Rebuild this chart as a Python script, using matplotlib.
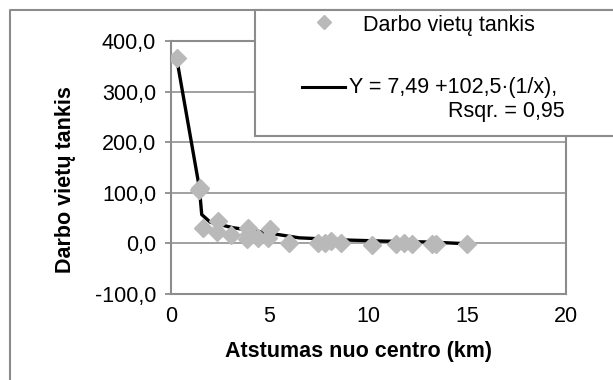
import matplotlib
matplotlib.use('Agg')
import matplotlib.pyplot as plt
from matplotlib.patches import Rectangle
from matplotlib.lines import Line2D

plt.rcParams['font.family'] = ['Liberation Sans', 'DejaVu Sans']

# duomenys (nuskaityta nuo paveikslo)
atstumas = [0.3, 1.45, 1.5, 1.65, 2.4, 2.35, 3.05, 3.9, 3.85, 3.95, 4.4, 5.0, 4.9,
            6.0, 7.45, 7.8, 8.1, 8.6, 10.2, 11.4, 11.8, 12.2, 13.2, 13.4, 15.0]
tankis = [366, 106, 110, 31, 44, 22, 16, 31, 8, 18, 11, 29, 11,
          0, 0, 1, 5, 1, -4, -2, 1, -2, -2, -2, -2]

# regresijos kreive
fit_x = [0.3, 1.45, 1.57, 2.0, 2.5, 3.15, 4.35, 5.35, 6.5, 9.05, 10.7, 13.2, 14.6, 15.0]
fit_y = [366, 110, 57, 42, 37, 31, 24, 18, 11, 6.5, 4.6, 2.6, 0, 0]

xticks = [0, 5, 10, 15, 20]
yticks = [-100, 0, 100, 200, 300, 400]
ytick_labels = ['-100,0', '0,0', '100,0', '200,0', '300,0', '400,0']

W, H = 613, 380
fig = plt.figure(figsize=(W / 100, H / 100), dpi=100)
ax = fig.add_axes([170.7 / W, 1 - 294 / H, (566 - 170.7) / W, (294 - 41) / H])

gray = '#8c8c8c'
mk = '#b9b9b9'

ax.plot(fit_x, fit_y, color='black', lw=2.4, zorder=3)
ax.plot(atstumas, tankis, ls='none', marker='D', ms=9.5, color=mk, mec=mk, zorder=4)

ax.set_xlim(0, 20)
ax.set_ylim(-100, 400)
ax.set_xticks(xticks)
ax.set_xticklabels([str(t) for t in xticks])
ax.set_yticks(yticks)
ax.set_yticklabels(ytick_labels)
ax.grid(axis='y', color='#9a9a9a', lw=1.3)
ax.set_axisbelow(True)
for s in ax.spines.values():
    s.set_color(gray)
    s.set_linewidth(1.5)
ax.tick_params(axis='y', length=4.5, width=1.3, color=gray, pad=6, labelsize=15.5)
ax.tick_params(axis='x', length=0, pad=9, labelsize=15.5)

fig.text(66 / W, 1 - 180 / H, 'Darbo vietų tankis', rotation=90, ha='center', va='center',
         fontsize=15.5, fontweight='bold')
fig.text(358.5 / W, 1 - 352 / H, 'Atstumas nuo centro (km)', ha='center', va='center',
         fontsize=15.5, fontweight='bold')

# isorinis remelis
fig.lines.append(Line2D([10 / W, 10 / W, 1.0], [0, 1 - 10 / H, 1 - 10 / H],
                        transform=fig.transFigure, color=gray, lw=1.5))

# legenda
fig.patches.append(Rectangle((255 / W, 1 - 136 / H), 400 / W, 126 / H, transform=fig.transFigure,
                             facecolor='white', edgecolor=gray, lw=1.5, zorder=5))
fig.lines.append(Line2D([324 / W], [1 - 22 / H], transform=fig.transFigure, ls='none',
                        marker='D', ms=7.5, color=mk, zorder=6))
fig.text(363 / W, 1 - 26 / H, 'Darbo vietų tankis', ha='left', va='center', fontsize=15.5, zorder=6)
fig.lines.append(Line2D([302 / W, 345 / W], [1 - 87 / H, 1 - 87 / H], transform=fig.transFigure,
                        color='black', lw=2.2, zorder=6))
fig.text(349 / W, 1 - 88 / H, 'Y = 7,49 +102,5·(1/x),', ha='left', va='center', fontsize=15.5, zorder=6)
fig.text(565 / W, 1 - 111 / H, 'Rsqr. = 0,95', ha='right', va='center', fontsize=15.5, zorder=6)

fig.savefig('out.png', dpi=100)
